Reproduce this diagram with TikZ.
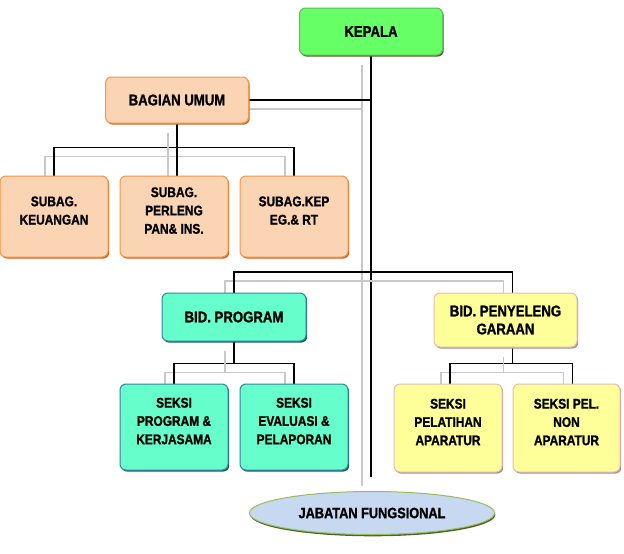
\documentclass[tikz,border=0pt]{standalone}
\usepackage{fontspec}
\newfontfamily\orgfont{Liberation Sans Bold}[FakeStretch=0.85, FakeBold=1.2]
\usetikzlibrary{shapes.geometric,shadows,backgrounds}
\definecolor{kepalaGreen}{RGB}{102,255,102}
\definecolor{kepalaEdge}{RGB}{90,190,90}
\definecolor{kepalaShade}{RGB}{79,98,40}
\definecolor{umumFill}{RGB}{251,212,180}
\definecolor{umumEdge}{RGB}{247,150,70}
\definecolor{umumShade}{RGB}{200,100,30}
\definecolor{progFill}{RGB}{102,255,204}
\definecolor{progEdge}{RGB}{49,133,156}
\definecolor{progShade}{RGB}{33,89,104}
\definecolor{penyFill}{RGB}{255,255,153}
\definecolor{penyEdge}{RGB}{230,185,184}
\definecolor{penyShade}{RGB}{170,140,150}
\definecolor{fungFill}{RGB}{198,217,241}
\definecolor{fungEdge}{RGB}{155,187,89}
\definecolor{echoGrey}{RGB}{200,200,200}
\tikzset{
  unit/.style 2 args={draw=#1Edge, fill=#1#2, line width=1pt, rounded corners=6pt,
    inner sep=0pt, align=center,
    drop shadow={shadow xshift=1.2pt, shadow yshift=-1.6pt, opacity=1, fill=#1Shade}},
  bigbox/.style={minimum width=143pt, font=\orgfont\fontsize{15.5}{18}\selectfont},
  smallbox/.style={minimum width=108pt, text depth=12pt, font=\orgfont\fontsize{14}{18.3}\selectfont},
  link/.style={draw=black, line width=1.3pt,
    preaction={draw=echoGrey, line width=1.3pt, transform canvas={shift={(-9pt,-9pt)}}}}
}

\begin{document}
\begin{tikzpicture}[x=1pt,y=-1pt]
  \useasboundingbox (0,0) rectangle (624,554);
  % top level
  \node[unit={kepala}{Green}, bigbox, minimum height=47pt] (kepala) at (371,31.5) {KEPALA};
  \node[unit={umum}{Fill}, bigbox, minimum height=46pt] (bagian) at (177,100) {BAGIAN UMUM};
  % subbagian
  \node[unit={umum}{Fill}, smallbox, minimum height=81pt] (keu) at (54,216.5) {SUBAG.\\KEUANGAN};
  \node[unit={umum}{Fill}, smallbox, minimum height=81pt] (perl) at (174,216.5) {SUBAG.\\PERLENG\\PAN\& INS.};
  \node[unit={umum}{Fill}, smallbox, minimum height=81pt] (kep) at (294,216.5) {SUBAG.KEP\\EG.\& RT};
  % bidang
  \node[unit={prog}{Fill}, bigbox, minimum height=48pt, minimum width=144pt] (bidprog) at (234,317) {BID. PROGRAM};
  \node[unit={peny}{Fill}, bigbox, minimum height=54pt] (bidpen) at (505.5,320) {BID. PENYELENG\\GARAAN};
  % seksi
  \node[unit={prog}{Fill}, smallbox, minimum height=86pt] (sprog) at (174,427) {SEKSI\\PROGRAM \&\\KERJASAMA};
  \node[unit={prog}{Fill}, smallbox, minimum height=86pt] (seval) at (294,427) {SEKSI\\EVALUASI \&\\PELAPORAN};
  \node[unit={peny}{Fill}, smallbox, minimum height=88pt] (spel) at (448,428) {SEKSI\\PELATIHAN\\APARATUR};
  \node[unit={peny}{Fill}, smallbox, minimum height=88pt, minimum width=107pt] (snon) at (566.5,428) {SEKSI PEL.\\NON\\APARATUR};
  % jabatan fungsional
  \node[ellipse, draw=fungEdge, fill=fungFill, line width=1pt, minimum width=245pt, minimum height=43pt,
    inner sep=0pt, font=\orgfont\fontsize{15}{18}\selectfont,
    drop shadow={shadow xshift=0.8pt, shadow yshift=-1.8pt, opacity=1, fill=kepalaShade}] (fungsional) at (372,513) {JABATAN FUNGSIONAL};
  \coordinate (trunkend) at (kepala.south |- 0,477);
  \coordinate (lvl2) at (kepala.south |- 0,272);
  \begin{pgfonlayer}{background}
    \draw[link] (kepala.south) -- (trunkend);
    \draw[link] (bagian.east) -- (bagian.east -| kepala.south);
    \draw[link] (keu.north) |- ([yshift=-24pt]bagian.south) -| (kep.north);
    \draw[link] (bagian.south) -- (bagian.south |- perl.north);
    \draw[link] (bidprog.north) |- (lvl2) -| ([xshift=7pt]bidpen.north);
    \draw[link] (sprog.north) |- ([yshift=-22pt]bidprog.south) -| (seval.north);
    \draw[link] (bidprog.south) -- ([yshift=-22pt]bidprog.south);
    \draw[link] ([xshift=2pt]spel.north) |- ([xshift=7pt,yshift=-16pt]bidpen.south) -| ([xshift=6pt]snon.north);
    \draw[link] ([xshift=7pt]bidpen.south) -- ([xshift=7pt,yshift=-16pt]bidpen.south);
  \end{pgfonlayer}
\end{tikzpicture}
\end{document}
